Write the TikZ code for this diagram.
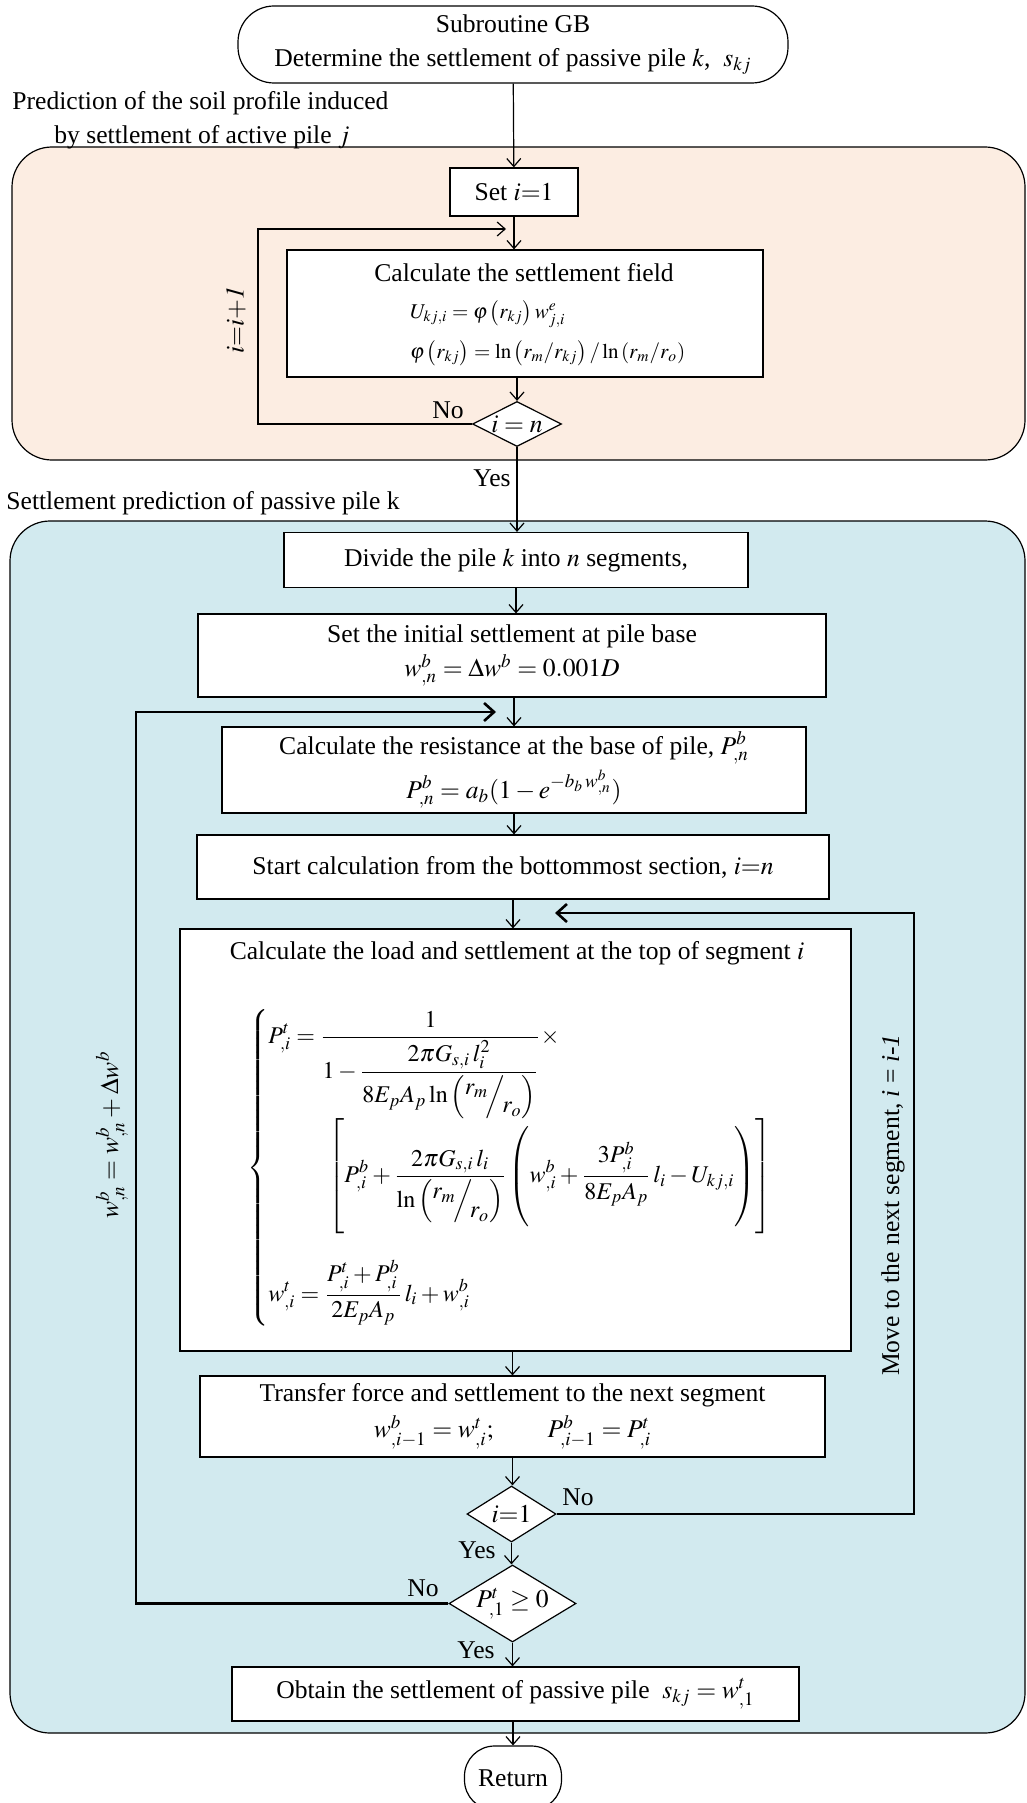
\documentclass[tikz,border=0pt]{standalone}
\usepackage{amsmath}
\usepackage{mathptmx}
\usepackage{fontspec}
\setmainfont{Liberation Serif}
\usetikzlibrary{shapes.geometric,arrows.meta}

\definecolor{peach}{RGB}{252,237,226}
\definecolor{paleblue}{RGB}{210,234,239}

% slanted r_m / r_o inside the log
\newcommand{\slfrac}[2]{\raisebox{0.8ex}{$#1$}\!\Big/\!\raisebox{-0.9ex}{$#2$}}

\begin{document}
\begin{tikzpicture}[
    x=0.5pt, y=-0.5pt,
    every node/.style={font=\fontsize{12.8}{17}\selectfont},
    box/.style={draw, fill=white, line width=0.6pt, inner sep=0pt, align=center},
    decision/.style={draw, fill=white, diamond, line width=0.6pt, inner sep=0pt},
    terminal/.style={draw, fill=white, line width=0.6pt, rounded corners=18pt, inner sep=0pt, align=center},
    region/.style={draw, line width=0.6pt, rounded corners=20pt},
    arr/.style={line width=0.6pt, -{Straight Barb[length=4pt,width=7pt]}},
    loopback/.style={line width=1.3pt, -{Straight Barb[length=5pt,width=9pt]}},
]
  \useasboundingbox (0,0) rectangle (1027,1803);

  % the two shaded stages
  \draw[region, fill=peach]    (12,147) rectangle (1025,460);
  \draw[region, fill=paleblue] (10,521) rectangle (1025,1733);

  \node[terminal, minimum width=275pt, minimum height=38.5pt] (gb) at (513,44.5)
       {Subroutine GB\\Determine the settlement of passive pile $k$,\ \ $s_{kj}$};

  % soil profile stage
  \node[anchor=west, align=left, inner sep=0pt] (profile) at (12,120)
       {Prediction of the soil profile induced\\\hspace*{21pt}by settlement of active pile $j$};
  \node[box, minimum width=64pt, minimum height=24pt]    (seti)  at (514,192)   {Set $i{=}1$};
  \node[box, minimum width=238pt, minimum height=63.5pt] (field) at (525,313.5) {};
  \node (fieldtitle) at (524,273) {Calculate the settlement field};
  \node[anchor=west, align=left, font=\fontsize{10.5}{20}\selectfont] (fieldeq) at (403,333)
       {$U_{kj,i} = \varphi\left(r_{kj}\right) w^{e}_{j,i}$\\
        $\varphi\left(r_{kj}\right) = \ln\left(r_m / r_{kj}\right) / \ln\left(r_m / r_o\right)$};
  \node[decision, aspect=2, minimum width=44.5pt, minimum height=22.5pt] (isn) at (517,424) {$i = n$};
  \node (no1)  at (448,410) {No};
  \node (yes1) at (492,478) {Yes};
  \node[rotate=90] (inc) at (236,320) {$i{=}i{+}\mathit{1}$};
  \coordinate (la) at (258,229);
  \coordinate (lb) at (506,229);

  % passive pile stage
  \node[anchor=west, inner sep=0pt] (passive) at (6,503) {Settlement prediction of passive pile k};
  \node[box, minimum width=232pt, minimum height=27.5pt] (divide) at (516,560) {Divide the pile $k$ into $n$ segments,};
  \node[box, minimum width=314pt, minimum height=41.5pt] (base) at (512,655.5)
       {Set the initial settlement at pile base\\$w^b_{,n} = \Delta w^b = 0.001D$};
  \node[box, minimum width=292pt, minimum height=43pt] (resist) at (514,770)
       {Calculate the resistance at the base of pile, $P^b_{,n}$\\[2pt]$P^b_{,n} = a_b(1-e^{-b_b\,w^b_{,n}})$};
  \node[box, minimum width=316pt, minimum height=32pt] (bottom) at (513,867)
       {Start calculation from the bottommost section, $i{=}n$};
  \node[box, minimum width=335.5pt, minimum height=211pt] (load) at (515.5,1140) {};
  \node (loadtitle) at (517,953) {Calculate the load and settlement at the top of segment $i$};
  \node[anchor=west, font=\fontsize{12}{16}\selectfont] (loadeq) at (240,1168)
       {$\displaystyle\left\{\begin{array}{@{}l@{}}
        \displaystyle P^t_{,i} = \frac{1}{1-\dfrac{2\pi G_{s,i}\, l_i^2}{8E_pA_p\ln\left(\slfrac{r_m}{r_o}\right)}}\times\\[30pt]
        \hspace{30pt}\displaystyle\left[\rule[-28pt]{0pt}{60pt}P^b_{,i} + \frac{2\pi G_{s,i}\, l_i}{\ln\left(\slfrac{r_m}{r_o}\right)}
            \left(\rule[-22pt]{0pt}{48pt}w^b_{,i} + \frac{3P^b_{,i}}{8E_pA_p}\, l_i - U_{kj,i}\right)\right]\\[34pt]
        \displaystyle w^t_{,i} = \frac{P^t_{,i}+P^b_{,i}}{2E_pA_p}\, l_i + w^b_{,i}
        \end{array}\right.$};
  \node[box, minimum width=312.5pt, minimum height=40.5pt] (transfer) at (512.5,1416.5)
       {Transfer force and settlement to the next segment\\[1pt]$w^b_{,i-1} = w^t_{,i};\qquad P^b_{,i-1} = P^t_{,i}$};
  \node[decision, aspect=1.6, minimum width=44.5pt, minimum height=28pt]  (ione) at (511.5,1514)  {$i{=}1$};
  \node[decision, aspect=1.65, minimum width=63.5pt, minimum height=38.5pt] (pos) at (512.5,1603.5) {$P^t_{,1} \ge 0$};
  \node[box, minimum width=283.5pt, minimum height=27pt] (obtain) at (515.5,1694)
       {Obtain the settlement of passive pile\ \ $s_{kj} = w^t_{,1}$};
  \node[terminal, rounded corners=15pt, minimum width=48.5pt, minimum height=32pt] (return) at (513,1778) {Return};
  \node (no2)  at (578,1497) {No};
  \node (yes2) at (477,1550) {Yes};
  \node (no3)  at (423,1588) {No};
  \node (yes3) at (476,1650) {Yes};
  \node[rotate=90] (next) at (893,1205) {Move to the next segment, \textit{i} = \textit{i-1}};
  \node[rotate=90] (incr) at (112,1135) {$w^b_{,n} = w^b_{,n} + \Delta w^b$};
  \coordinate (ra) at (914,913);
  \coordinate (rb) at (555,913);
  \coordinate (wa) at (136,712);
  \coordinate (wb) at (496,712);

  % connectors
  \draw[arr] (gb) -- (seti);
  \draw[arr] (seti) -- (seti |- field.north);
  \draw[arr] (field.south -| isn) -- (isn);
  \draw[arr] (isn.west) -| (la) -- (lb);
  \draw[arr] (isn) -- (isn |- divide.north);
  \draw[arr] (divide) -- (divide |- base.north);
  \draw[arr] (base.south -| resist) -- (resist);
  \draw[arr] (resist) -- (resist |- bottom.north);
  \draw[arr] (bottom) -- (bottom |- load.north);
  \draw[arr] (load.south -| transfer) -- (transfer);
  \draw[arr] (transfer) -- (transfer |- ione.north);
  \draw[arr] (ione) -- (ione |- pos.north);
  \draw[arr] (pos) -- (pos |- obtain.north);
  \draw[arr] (obtain.south -| return) -- (return);
  \draw[loopback] (ione.east) -| (ra) -- (rb);
  \draw[loopback] (pos.west) -| (wa) -- (wb);
\end{tikzpicture}
\end{document}
